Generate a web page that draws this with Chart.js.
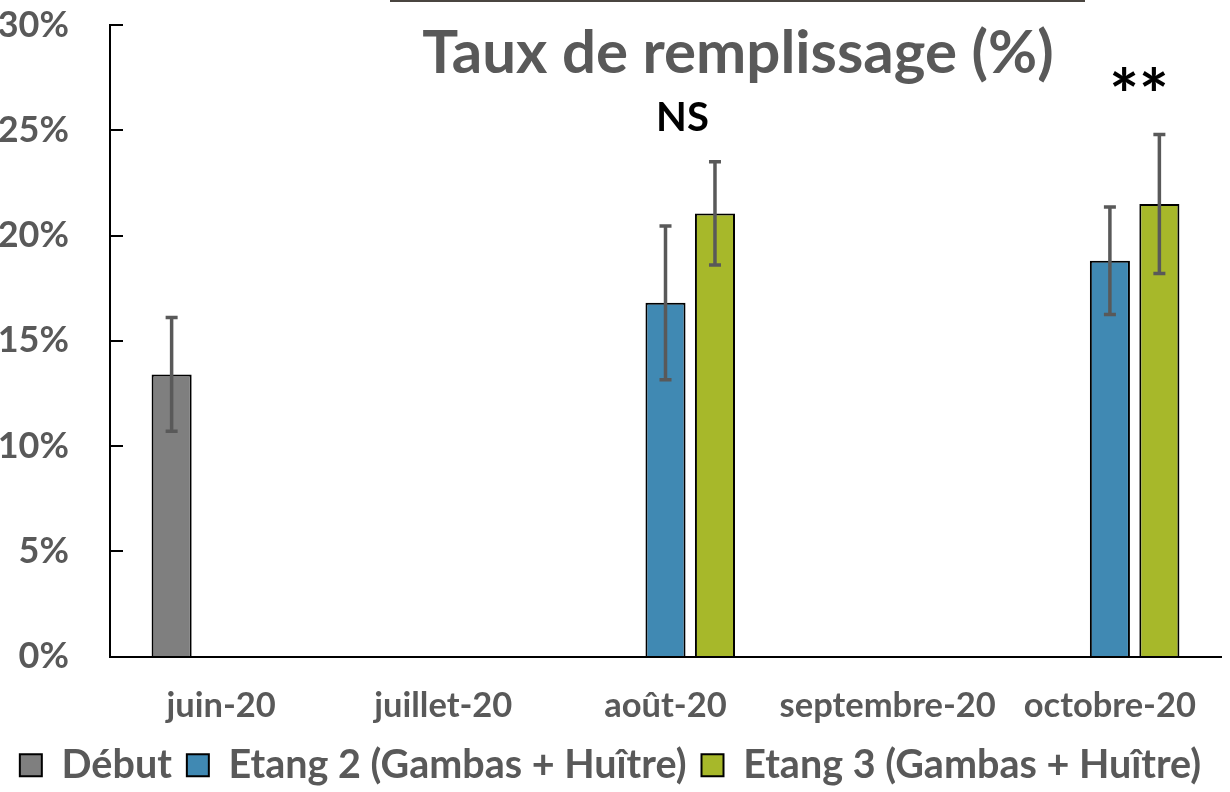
<!DOCTYPE html>
<html>
<head>
<meta charset="utf-8">
<script src="https://cdn.jsdelivr.net/npm/chart.js@4/dist/chart.umd.min.js"></script>
<style>
html,body{margin:0;padding:0;background:#fff;}
#wrap{width:1230px;height:792px;position:relative;}
</style>
</head>
<body>
<div id="wrap"><canvas id="c" width="1230" height="792"></canvas></div>
<script>
// ---- data ----
const categories = ['juin-20', 'juillet-20', 'août-20', 'septembre-20', 'octobre-20'];
const seriesNames = ['Début', 'Etang 2 (Gambas + Huître)', 'Etang 3 (Gambas + Huître)'];
const debut  = [13.4, null, null, null, null];
const etang2 = [null, null, 16.8, null, 18.8];
const etang3 = [null, null, 21.05, null, 21.5];
const errDebut  = [2.7, null, null, null, null];
const errEtang2 = [null, null, 3.65, null, 2.55];
const errEtang3 = [null, null, 2.45, null, 3.3];
const yTickValues = [0, 5, 10, 15, 20, 25, 30];
const titleText = 'Taux de remplissage (%)';
const annotationTexts = ['NS', '**'];
const annotationCats = [2, 4];
const annotationValues = [25.6, 26.5];

const GRAY = '#595959';
const FONT = 'Lato';

const errorBars = {
  id: 'errorBars',
  afterDatasetsDraw(chart) {
    const ctx = chart.ctx;
    const y = chart.scales.y;
    const errs = [errDebut, errEtang2, errEtang3];
    ctx.save();
    ctx.strokeStyle = GRAY;
    ctx.lineWidth = 3.5;
    chart.data.datasets.forEach((ds, di) => {
      const meta = chart.getDatasetMeta(di);
      meta.data.forEach((bar, i) => {
        const v = ds.data[i];
        const e = errs[di][i];
        if (v == null || e == null) return;
        const x = bar.x;
        const yt = y.getPixelForValue(v + e);
        const yb = y.getPixelForValue(v - e);
        ctx.beginPath();
        ctx.moveTo(x, yt); ctx.lineTo(x, yb);
        ctx.moveTo(x - 6, yt); ctx.lineTo(x + 6, yt);
        ctx.moveTo(x - 6, yb); ctx.lineTo(x + 6, yb);
        ctx.stroke();
      });
    });
    ctx.restore();
  }
};

const decorations = {
  id: 'decorations',
  afterDraw(chart) {
    const ctx = chart.ctx;
    const xs = chart.scales.x, ys = chart.scales.y;
    const area = chart.chartArea;
    ctx.save();
    // inner y tick marks
    ctx.strokeStyle = '#000';
    ctx.lineWidth = 2;
    yTickValues.forEach(v => {
      const py = Math.round(ys.getPixelForValue(v));
      ctx.beginPath();
      ctx.moveTo(area.left, py); ctx.lineTo(area.left + 13, py);
      ctx.stroke();
    });
    // thin line at the top
    ctx.strokeStyle = '#4a4540';
    ctx.lineWidth = 2;
    ctx.beginPath();
    ctx.moveTo(390, 1); ctx.lineTo(1085, 1);
    ctx.stroke();
    // title
    ctx.fillStyle = GRAY;
    ctx.font = 'bold 60px ' + FONT;
    ctx.textAlign = 'center';
    ctx.textBaseline = 'alphabetic';
    ctx.fillText(titleText, 738, 73);
    // annotations
    ctx.fillStyle = '#000';
    const dx = [17, 29];
    const sizes = [40, 70];
    annotationTexts.forEach((t, k) => {
      ctx.font = 'bold ' + sizes[k] + 'px ' + FONT;
      ctx.textBaseline = 'middle';
      const px = xs.getPixelForValue(annotationCats[k]) + dx[k];
      const py = ys.getPixelForValue(annotationValues[k]);
      ctx.fillText(t, px, py);
    });
    ctx.restore();
  }
};

new Chart(document.getElementById('c'), {
  type: 'bar',
  data: {
    labels: categories,
    datasets: [
      { label: seriesNames[0], data: debut,  backgroundColor: '#7f7f7f', borderColor: '#000', borderWidth: 2 },
      { label: seriesNames[1], data: etang2, backgroundColor: '#4089b3', borderColor: '#000', borderWidth: 2 },
      { label: seriesNames[2], data: etang3, backgroundColor: '#a7b82a', borderColor: '#000', borderWidth: 2 }
    ]
  },
  options: {
    responsive: false,
    animation: false,
    devicePixelRatio: 1,
    layout: { padding: { top: 25, right: 9, left: 0, bottom: -3 } },
    datasets: { bar: { categoryPercentage: 0.668, barPercentage: 0.81, grouped: true } },
    plugins: {
      legend: {
        position: 'bottom',
        labels: {
          boxWidth: 22, boxHeight: 22, padding: 15,
          color: GRAY,
          font: { family: FONT, size: 39.5, weight: 'bold' }
        }
      },
      tooltip: { enabled: false },
      title: { display: false }
    },
    scales: {
      x: {
        grid: { display: false, drawTicks: false },
        border: { display: true, color: '#000', width: 2 },
        ticks: { color: GRAY, padding: 29, maxRotation: 0, autoSkip: false, font: { family: FONT, size: 34.5, weight: 'bold' } },
        afterFit(s) { s.height = 74; }
      },
      y: {
        min: 0, max: 30,
        grid: { display: true, drawOnChartArea: false, drawTicks: true, tickLength: 41, tickColor: 'rgba(0,0,0,0)' },
        border: { display: true, color: '#000', width: 2 },
        ticks: { stepSize: 5, color: GRAY, padding: 0, font: { family: FONT, size: 36, weight: 'bold' }, callback: v => v + '%' },
        afterFit(s) { s.width = 110; }
      }
    }
  },
  plugins: [errorBars, decorations]
});
</script>
</body>
</html>
